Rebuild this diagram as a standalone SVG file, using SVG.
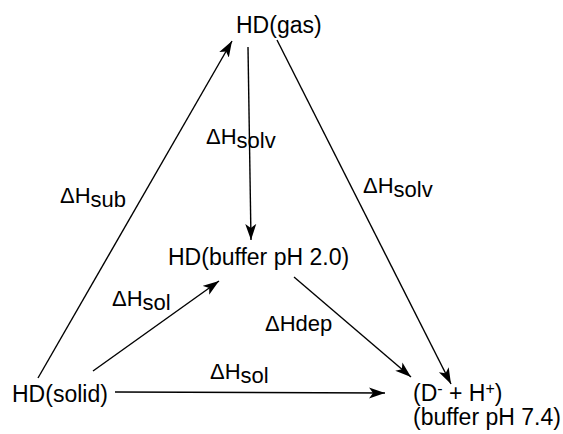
<svg xmlns="http://www.w3.org/2000/svg" width="563" height="434" viewBox="0 0 563 434">
<style>
  text { font-family: "Liberation Sans", Arial, sans-serif; fill: #000; }
  .node { font-size: 23px; }
  .lbl { font-size: 22px; }
  .sup { font-size: 16px; }
  .edge { stroke: #000; stroke-width: 1.4; fill: none; marker-end: url(#ah); }
</style>
<defs>
  <marker id="ah" markerUnits="userSpaceOnUse" markerWidth="17" markerHeight="12" viewBox="0 0 17 12" refX="16" refY="6" orient="auto">
    <path d="M0,0.5 L16,6 L0,11.5 L4,6 Z" fill="#000"/>
  </marker>
</defs>
<rect width="563" height="434" fill="#fff"/>
<g id="connectors">
  <line class="edge" x1="38" y1="378" x2="232" y2="41"/>
  <line class="edge" x1="248" y1="47" x2="251" y2="240"/>
  <line class="edge" x1="277" y1="40" x2="451" y2="384"/>
  <line class="edge" x1="294" y1="277" x2="411" y2="377"/>
  <line class="edge" x1="93" y1="371" x2="219" y2="281"/>
  <line class="edge" x1="115" y1="392" x2="385" y2="393"/>
</g>
<g id="labels">
  <text class="lbl" x="60" y="203">ΔH<tspan dy="4">sub</tspan></text>
  <text class="lbl" x="206" y="144">ΔH<tspan dy="4">solv</tspan></text>
  <text class="lbl" x="363" y="193">ΔH<tspan dy="4">solv</tspan></text>
  <text class="lbl" x="112" y="306">ΔH<tspan dy="4">sol</tspan></text>
  <text class="lbl" x="210" y="379">ΔH<tspan dy="4">sol</tspan></text>
  <text class="lbl" x="265" y="331">ΔHdep</text>
</g>
<g id="node-gas"><text class="node" x="236" y="33">HD(gas)</text></g>
<g id="node-buffer"><text class="node" x="168" y="265">HD(buffer pH 2.0)</text></g>
<g id="node-solid"><text class="node" x="12" y="402">HD(solid)</text></g>
<g id="node-ions">
  <text class="node" x="413" y="401">(D<tspan class="sup" dy="-7">-</tspan><tspan dy="7"> + H</tspan><tspan class="sup" dy="-7">+</tspan><tspan dy="7">)</tspan></text>
  <text class="node" x="413" y="425">(buffer pH 7.4)</text>
</g>
</svg>
